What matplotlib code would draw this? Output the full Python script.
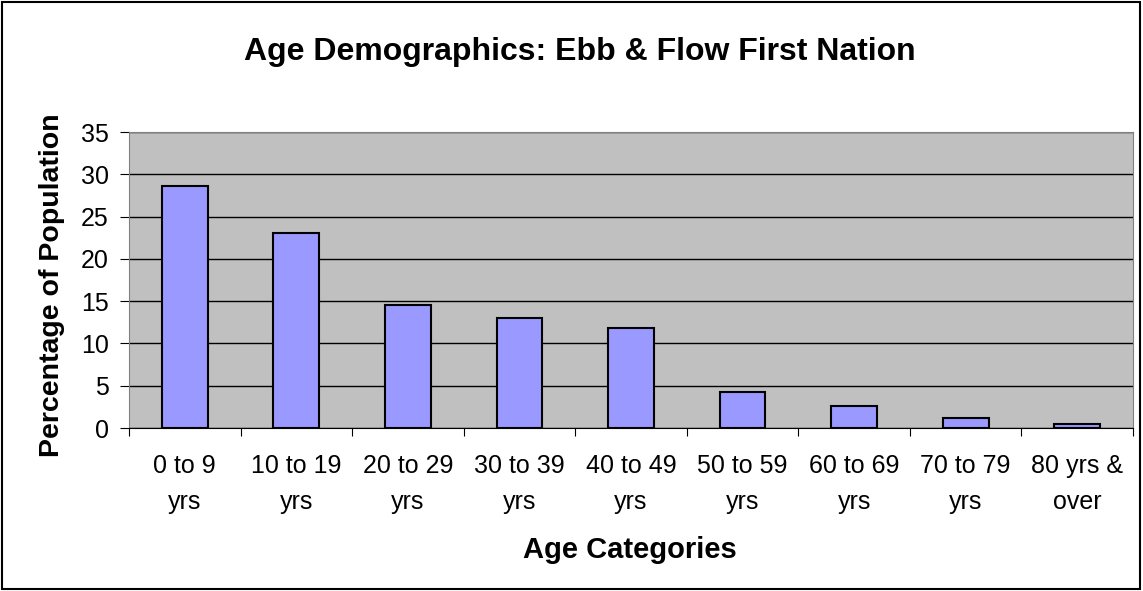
import numpy as np
import matplotlib
matplotlib.use("Agg")
import matplotlib.pyplot as plt
from matplotlib.patches import Rectangle

plt.rcParams["font.family"] = ["Liberation Sans", "DejaVu Sans"]

# 数据：各年龄段占人口百分比
categories = ["0 to 9\nyrs", "10 to 19\nyrs", "20 to 29\nyrs", "30 to 39\nyrs",
              "40 to 49\nyrs", "50 to 59\nyrs", "60 to 69\nyrs", "70 to 79\nyrs",
              "80 yrs &\nover"]
percentages = [28.6, 23.1, 14.6, 13.0, 11.85, 4.25, 2.6, 1.2, 0.45]
y_ticks = [0, 5, 10, 15, 20, 25, 30, 35]

fig = plt.figure(figsize=(11.43, 5.91), dpi=100)
ax = fig.add_axes([129 / 1143, 1 - 428 / 591, (1133 - 129) / 1143, (428 - 132) / 591])

x = np.arange(len(categories))
ax.set_facecolor("#C0C0C0")
ax.set_axisbelow(True)
ax.yaxis.grid(True, color="black", linewidth=1)
ax.bar(x, percentages, width=0.41, color="#9999FF", edgecolor="black", linewidth=1.5, zorder=3)

ax.set_xlim(-0.5, len(categories) - 0.5)
ax.set_ylim(0, 35)
ax.set_yticks(y_ticks)
ax.tick_params(axis="y", labelsize=18, length=6.5, direction="out", pad=8)

# 刻度线在类别边界，标签放在中间
ax.set_xticks(np.arange(len(categories) + 1) - 0.5)
ax.set_xticklabels([])
ax.set_xticks(x, minor=True)
ax.set_xticklabels(categories, minor=True, fontsize=18, linespacing=1.6)
ax.tick_params(axis="x", which="major", length=6, direction="out")
ax.tick_params(axis="x", which="minor", length=0, pad=19)

for side in ["top", "right", "left"]:
    ax.spines[side].set_color("#808080")
ax.spines["bottom"].set_color("black")

fig.text(580 / 1143, 1 - 60 / 591, "Age Demographics: Ebb & Flow First Nation",
         ha="center", va="baseline", fontsize=23, fontweight="bold")
fig.text(630 / 1143, 1 - 558 / 591, "Age Categories", ha="center", va="baseline",
         fontsize=21, fontweight="bold")
fig.text(52 / 1143, 1 - 285 / 591, "Percentage of Population", ha="center", va="center",
         rotation=90, fontsize=20.5, fontweight="bold")

# 外框
fig.patches.append(Rectangle((0.002, 0.003), 0.995, 0.993, transform=fig.transFigure,
                             fill=False, edgecolor="black", linewidth=1.5))

fig.savefig("out.png", dpi=100)
